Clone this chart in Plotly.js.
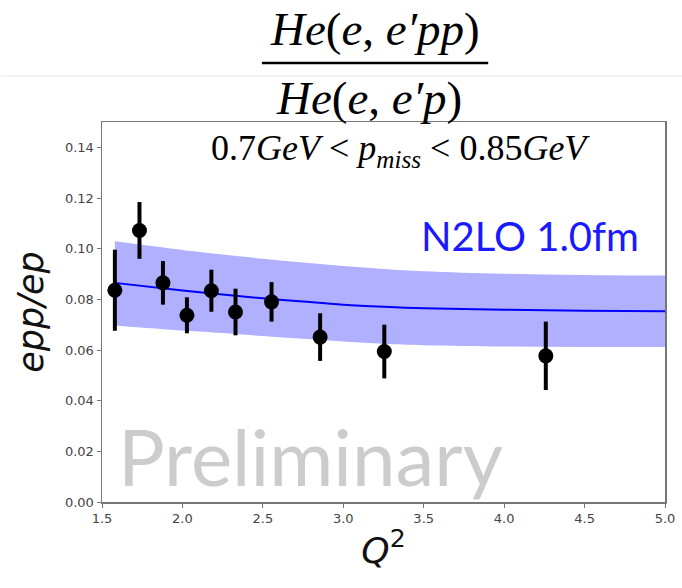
<!DOCTYPE html>
<html>
<head>
<meta charset="utf-8">
<script src="https://cdn.plot.ly/plotly-3.0.1.min.js"></script>
<style>html,body{margin:0;padding:0;background:#fff;}#chart{width:682px;height:588px;}</style>
</head>
<body>
<div id="chart"></div>
<script>
// Measured data points (Q^2, epp/ep ratio, error)
const dataQ2 = [1.58, 1.733, 1.879, 2.028, 2.18, 2.33, 2.554, 2.856, 3.255, 4.259];
const dataRatio = [0.0836, 0.1072, 0.0865, 0.0737, 0.0834, 0.0750, 0.0790, 0.0651, 0.0594, 0.0577];
const dataErr = [0.0160, 0.0112, 0.0086, 0.0071, 0.0083, 0.0092, 0.0078, 0.0094, 0.0106, 0.0135];

// N2LO 1.0fm theory curve and band
const theoryQ2 = [1.58, 2.0, 2.25, 2.5, 2.75, 3.0, 3.25, 3.5, 4.0, 4.5, 5.0];
const theoryMid = [0.0865, 0.0835, 0.0819, 0.0804, 0.0791, 0.0779, 0.0771, 0.0765, 0.0759, 0.0755, 0.0753];
const theoryUpper = [0.1029, 0.0995, 0.0977, 0.0960, 0.0945, 0.0932, 0.0920, 0.0911, 0.0901, 0.0896, 0.0894];
const theoryLower = [0.0697, 0.0677, 0.0667, 0.0655, 0.0644, 0.0634, 0.0625, 0.0619, 0.0614, 0.0612, 0.0612];

const xTicks = [1.5, 2.0, 2.5, 3.0, 3.5, 4.0, 4.5, 5.0];
const yTicks = [0.00, 0.02, 0.04, 0.06, 0.08, 0.10, 0.12, 0.14];

const traces = [
  {x: theoryQ2, y: theoryLower, type: 'scatter', mode: 'lines', line: {width: 0, color: 'rgba(0,0,0,0)', shape: 'spline'}, hoverinfo: 'skip', showlegend: false},
  {x: theoryQ2, y: theoryUpper, type: 'scatter', mode: 'lines', line: {width: 0, color: 'rgba(0,0,0,0)', shape: 'spline'}, fill: 'tonexty', fillcolor: 'rgb(176,176,255)', showlegend: false},
  {x: theoryQ2, y: theoryMid, type: 'scatter', mode: 'lines', line: {width: 2, color: '#0000ff', shape: 'spline'}, showlegend: false},
  {x: dataQ2, y: dataRatio, type: 'scatter', mode: 'markers',
   marker: {size: 15, color: '#000'},
   error_y: {type: 'data', array: dataErr, visible: true, color: '#000', thickness: 4, width: 0},
   showlegend: false}
];

const serif = '"Liberation Serif", "DejaVu Serif", serif';
const layout = {
  width: 682, height: 588,
  margin: {l: 102, r: 17, t: 122, b: 86},
  paper_bgcolor: '#fff', plot_bgcolor: '#fff',
  showlegend: false,
  xaxis: {
    range: [1.5, 5.0], tickvals: xTicks, ticktext: xTicks.map(v => v.toFixed(1)),
    showgrid: false, zeroline: false, showline: true, mirror: true, linecolor: '#777', linewidth: 1.5,
    ticks: 'outside', ticklen: 4, tickcolor: '#777',
    tickfont: {family: '"DejaVu Sans", sans-serif', size: 13, color: '#444'},
    title: {text: '<i>Q</i><sup>2</sup>', font: {family: '"DejaVu Sans", sans-serif', size: 36, color: '#111'}, standoff: 12}
  },
  yaxis: {
    range: [0, 0.15], tickvals: yTicks, ticktext: yTicks.map(v => v.toFixed(2)),
    showgrid: false, zeroline: false, showline: true, mirror: true, linecolor: '#777', linewidth: 1.5,
    ticks: 'outside', ticklen: 4, tickcolor: '#777',
    tickfont: {family: '"DejaVu Sans", sans-serif', size: 13, color: '#444'},
    title: {text: '<i>epp/ep</i>', font: {family: '"DejaVu Sans", sans-serif', size: 35, color: '#111'}, standoff: 10}
  },
  shapes: [
    {type: 'line', xref: 'paper', yref: 'paper', x0: -0.18, x1: 1.03, y0: 1.121, y1: 1.121, line: {color: '#eeeeee', width: 1.5}},
    {type: 'line', xref: 'paper', yref: 'paper', x0: 0.284, x1: 0.686, y0: 1.155, y1: 1.155, line: {color: '#000', width: 2.5}}
  ],
  annotations: [
    {xref: 'paper', yref: 'paper', x: 0.485, y: 1.245, text: '<i>He</i>(<i>e</i>, <i>e′pp</i>)', showarrow: false,
     font: {family: serif, size: 47, color: '#000'}, xanchor: 'center', yanchor: 'middle'},
    {xref: 'paper', yref: 'paper', x: 0.475, y: 1.063, text: '<i>He</i>(<i>e</i>, <i>e′p</i>)', showarrow: false,
     font: {family: serif, size: 47, color: '#000'}, xanchor: 'center', yanchor: 'middle'},
    {xref: 'paper', yref: 'paper', x: 0.531, y: 0.926, text: '0.7<i>GeV</i> < <i>p</i><sub><i>miss</i></sub> < 0.85<i>GeV</i>', showarrow: false,
     font: {family: serif, size: 36, color: '#000'}, xanchor: 'center', yanchor: 'middle'},
    {xref: 'paper', yref: 'paper', x: 0.76, y: 0.70, text: 'N2LO 1.0fm', showarrow: false,
     font: {family: 'Lato, "Open Sans", sans-serif', size: 40, color: '#1a1aff'}, xanchor: 'center', yanchor: 'middle'},
    {xref: 'paper', yref: 'paper', x: 0.025, y: 0.122, text: 'Preliminary', showarrow: false,
     font: {family: 'Lato, "Open Sans", sans-serif', size: 78, color: '#cccccc'}, xanchor: 'left', yanchor: 'middle'}
  ]
};

Plotly.newPlot('chart', traces, layout, {staticPlot: true, displayModeBar: false});
</script>
</body>
</html>
